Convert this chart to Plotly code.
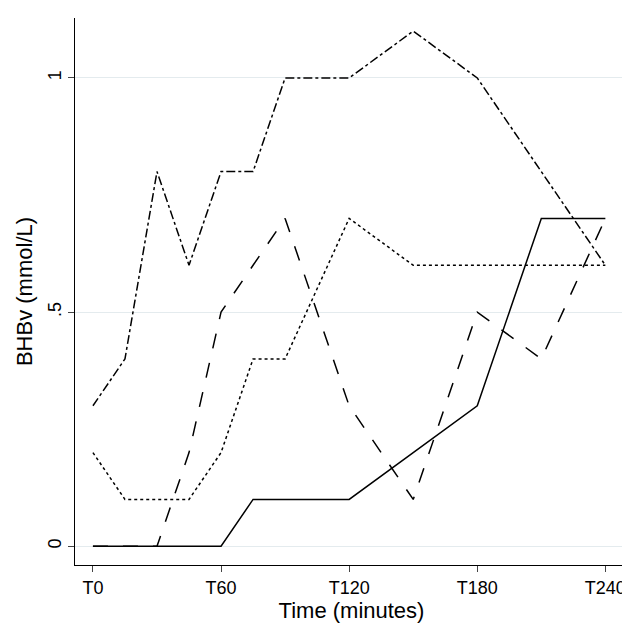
import plotly.graph_objects as go

minutes = [0, 15, 30, 45, 60, 75, 90, 120, 150, 180, 210, 240]
solid = [0, 0, 0, 0, 0, 0.1, 0.1, 0.1, 0.2, 0.3, 0.7, 0.7]
dashed = [0, 0, 0, 0.2, 0.5, 0.6, 0.7, 0.3, 0.1, 0.5, 0.4, 0.7]
dotted = [0.2, 0.1, 0.1, 0.1, 0.2, 0.4, 0.4, 0.7, 0.6, 0.6, 0.6, 0.6]
dashdot = [0.3, 0.4, 0.8, 0.6, 0.8, 0.8, 1.0, 1.0, 1.1, 1.0, 0.8, 0.6]
xticks = [0, 60, 120, 180, 240]
xticklabels = ["T0", "T60", "T120", "T180", "T240"]
yticks = [0, 0.5, 1]
yticklabels = ["0", ".5", "1"]

fig = go.Figure()
for y, d in [(solid, "solid"), (dashed, "longdash"), (dotted, "dot"), (dashdot, "dashdot")]:
    fig.add_trace(go.Scatter(x=minutes, y=y, mode="lines",
                             line=dict(color="black", width=1.5, dash=d)))
fig.update_layout(
    width=630, height=623, showlegend=False,
    plot_bgcolor="white", paper_bgcolor="white",
    margin=dict(l=67, r=10, t=10, b=66),
    font=dict(family="Liberation Sans, Arial", size=18, color="black"),
    xaxis=dict(range=[-8.4, 250.6], tickvals=xticks, ticktext=xticklabels,
               showline=True, linecolor="black", ticks="outside", ticklen=6,
               showgrid=False, zeroline=False, automargin=False,
               title=dict(text="Time (minutes)", standoff=2)),
    yaxis=dict(range=[-0.04, 1.128], tickvals=yticks, ticktext=yticklabels,
               tickangle=-90, showline=True, linecolor="black", ticks="outside",
               ticklen=6, showgrid=True, gridcolor="#e4ebee", zeroline=False,
               automargin=False,
               title=dict(text="BHBv (mmol/L)", standoff=6)),
)
fig.write_html("out.html")
